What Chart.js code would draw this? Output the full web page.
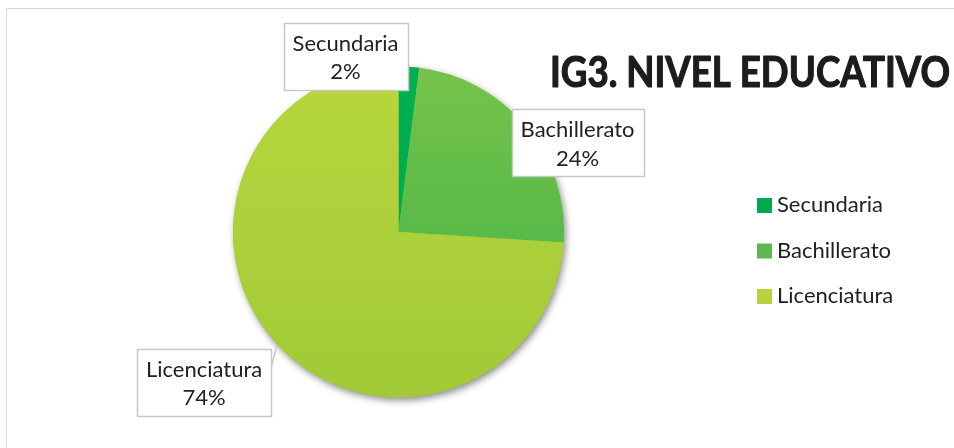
<!DOCTYPE html>
<html>
<head>
<meta charset="utf-8">
<script src="https://cdn.jsdelivr.net/npm/chart.js@4"></script>
<style>
html,body{margin:0;padding:0;background:#fff;}
#wrap{position:relative;width:954px;height:448px;overflow:hidden;}
#frame{position:absolute;left:6px;top:8px;width:1000px;height:500px;border:1.5px solid #d9d9d9;box-sizing:border-box;}
canvas{position:absolute;left:0;top:0;}
</style>
</head>
<body>
<div id="wrap"><div id="frame"></div><canvas id="chart" width="954" height="448"></canvas></div>
<script>
// data
const categories = ['Secundaria', 'Bachillerato', 'Licenciatura'];
const percentages = [2, 24, 74];
const chartTitle = 'IG3. NIVEL EDUCATIVO';

// colours (top / bottom of the light gradient excel puts on slices)
const sliceTop = ['#00b050', '#76c34b', '#b8d63e'];
const sliceBottom = ['#00a84c', '#3db146', '#a1ca36'];
const legendColors = ['#00a84f', '#5bb94e', '#b4d33d'];

// where the label boxes sit, centre in radii from pie centre
const labelSpots = [[-0.32, -1.06], [1.082, -0.538], [-1.175, 0.909]];
const leaderLines = [false, false, true];

const FONT = 'Lato, "Open Sans", sans-serif';
const TEXT = '#222222';

function sliceFill(ctx) {
	let ca = ctx.chart.chartArea;
	let i = ctx.dataIndex;
	if (!ca) return sliceTop[i];
	let g = ctx.chart.ctx.createLinearGradient(0, ca.top, 0, ca.bottom);
	g.addColorStop(0, sliceTop[i]);
	g.addColorStop(1, sliceBottom[i]);
	return g;
}

// soft shadow under the whole pie
const pieShadow = {
	id: 'pieShadow',
	beforeDatasetsDraw(chart) {
		let arc = chart.getDatasetMeta(0).data[0];
		if (!arc) return;
		let c = chart.ctx;
		c.save();
		c.shadowColor = 'rgba(0,0,0,0.45)';
		c.shadowBlur = 7;
		c.shadowOffsetX = 2;
		c.shadowOffsetY = 3;
		c.fillStyle = '#9fc936';
		c.beginPath();
		c.arc(arc.x, arc.y, arc.outerRadius, 0, Math.PI * 2);
		c.fill();
		c.restore();
	}
};

// boxed data labels, title and legend
const extras = {
	id: 'extras',
	afterDatasetsDraw(chart) {
		let c = chart.ctx;
		let arcs = chart.getDatasetMeta(0).data;
		let cx = arcs[0].x, cy = arcs[0].y, r = arcs[0].outerRadius;
		c.save();
		c.font = '22px ' + FONT;
		c.textAlign = 'center';
		c.textBaseline = 'middle';
		arcs.forEach((arc, i) => {
			let bx = cx + labelSpots[i][0] * r;
			let by = cy + labelSpots[i][1] * r;
			let w = Math.round(c.measureText(categories[i]).width + 18);
			let h = 67;
			let left = Math.round(bx - w / 2) + 0.5, top = Math.round(by - h / 2) + 0.5;
			c.fillStyle = '#fff';
			c.fillRect(left, top, w, h);
			c.strokeStyle = '#c8c8c8';
			c.lineWidth = 1.5;
			c.strokeRect(left, top, w, h);
			if (leaderLines[i]) {
				let ang = Math.atan2(top - cy, left + w - cx);
				c.beginPath();
				c.moveTo(left + w, top + 17);
				c.lineTo(cx + Math.cos(ang) * r, cy + Math.sin(ang) * r);
				c.stroke();
			}
			c.fillStyle = TEXT;
			c.fillText(categories[i], bx, by - 13);
			c.fillText(percentages[i] + '%', bx, by + 15.5);
		});

		// title, squeezed a bit to get calibri-ish width, stroked to look heavier
		c.font = 'bold 42px ' + FONT;
		c.textAlign = 'left';
		c.textBaseline = 'alphabetic';
		let tw = c.measureText(chartTitle).width;
		c.translate(550, 87);
		c.scale(400 / tw, 1);
		c.fillStyle = '#1c1c1c';
		c.strokeStyle = '#1c1c1c';
		c.lineWidth = 1.2;
		c.lineJoin = 'round';
		c.fillText(chartTitle, 0, 0);
		c.strokeText(chartTitle, 0, 0);
		c.restore();

		// legend
		c.save();
		c.font = '22px ' + FONT;
		c.textBaseline = 'middle';
		c.textAlign = 'left';
		categories.forEach((name, i) => {
			let y = 205 + i * 45.5;
			c.fillStyle = legendColors[i];
			c.fillRect(757, y - 7, 15, 15);
			c.fillStyle = TEXT;
			c.fillText(name, 777, y);
		});
		c.restore();
	}
};

let ctx = document.getElementById('chart').getContext('2d');
let chart = new Chart(ctx, {
	type: 'pie',
	data: {
		labels: categories,
		datasets: [{
			data: percentages,
			backgroundColor: sliceFill,
			borderWidth: 0
		}]
	},
	options: {
		responsive: false,
		animation: false,
		layout: { padding: { top: 66.5, bottom: 50.5, left: 198.5, right: 355.5 } },
		plugins: {
			legend: { display: false },
			tooltip: { enabled: false }
		}
	},
	plugins: [pieShadow, extras]
});
</script>
</body>
</html>
